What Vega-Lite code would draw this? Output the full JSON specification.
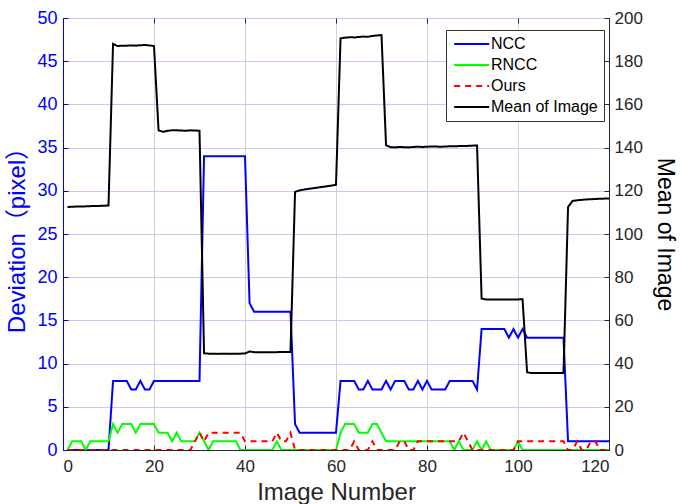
{
  "$schema": "https://vega.github.io/schema/vega-lite/v6.json",
  "width": 546,
  "height": 432,
  "autosize": "none",
  "padding": {"left": 63, "top": 18, "right": 88, "bottom": 54},
  "background": "white",
  "data": {"values": [
    {"i":1,"NCC":0,"RNCC":0,"Ours":0,"Mean":112.5},
    {"i":2,"NCC":0,"RNCC":1,"Ours":0,"Mean":112.6},
    {"i":3,"NCC":0,"RNCC":1,"Ours":0,"Mean":112.7},
    {"i":4,"NCC":0,"RNCC":1,"Ours":0,"Mean":112.7},
    {"i":5,"NCC":0,"RNCC":0,"Ours":0,"Mean":112.8},
    {"i":6,"NCC":0,"RNCC":1,"Ours":0,"Mean":112.9},
    {"i":7,"NCC":0,"RNCC":1,"Ours":0,"Mean":113},
    {"i":8,"NCC":0,"RNCC":1,"Ours":0,"Mean":113},
    {"i":9,"NCC":0,"RNCC":1,"Ours":0,"Mean":113.1},
    {"i":10,"NCC":0,"RNCC":1,"Ours":0,"Mean":113.2},
    {"i":11,"NCC":8,"RNCC":3,"Ours":0,"Mean":188},
    {"i":12,"NCC":8,"RNCC":2,"Ours":0,"Mean":187},
    {"i":13,"NCC":8,"RNCC":3,"Ours":0,"Mean":187.2},
    {"i":14,"NCC":8,"RNCC":3,"Ours":0,"Mean":187.2},
    {"i":15,"NCC":7,"RNCC":3,"Ours":0,"Mean":187.3},
    {"i":16,"NCC":7,"RNCC":2,"Ours":0,"Mean":187.2},
    {"i":17,"NCC":8,"RNCC":3,"Ours":0,"Mean":187.4},
    {"i":18,"NCC":7,"RNCC":3,"Ours":0,"Mean":187.5},
    {"i":19,"NCC":7,"RNCC":3,"Ours":0,"Mean":187.3},
    {"i":20,"NCC":8,"RNCC":3,"Ours":0,"Mean":187},
    {"i":21,"NCC":8,"RNCC":2,"Ours":0,"Mean":148},
    {"i":22,"NCC":8,"RNCC":2,"Ours":0,"Mean":147.3},
    {"i":23,"NCC":8,"RNCC":2,"Ours":0,"Mean":147.8},
    {"i":24,"NCC":8,"RNCC":1,"Ours":0,"Mean":148},
    {"i":25,"NCC":8,"RNCC":2,"Ours":0,"Mean":148},
    {"i":26,"NCC":8,"RNCC":1,"Ours":0,"Mean":147.9},
    {"i":27,"NCC":8,"RNCC":1,"Ours":0,"Mean":147.8},
    {"i":28,"NCC":8,"RNCC":1,"Ours":0,"Mean":148},
    {"i":29,"NCC":8,"RNCC":1,"Ours":1,"Mean":147.9},
    {"i":30,"NCC":8,"RNCC":2,"Ours":2,"Mean":147.8},
    {"i":31,"NCC":34,"RNCC":1,"Ours":1,"Mean":44.8},
    {"i":32,"NCC":34,"RNCC":0,"Ours":2,"Mean":44.6},
    {"i":33,"NCC":34,"RNCC":1,"Ours":2,"Mean":44.6},
    {"i":34,"NCC":34,"RNCC":1,"Ours":2,"Mean":44.5},
    {"i":35,"NCC":34,"RNCC":1,"Ours":2,"Mean":44.6},
    {"i":36,"NCC":34,"RNCC":1,"Ours":2,"Mean":44.6},
    {"i":37,"NCC":34,"RNCC":1,"Ours":2,"Mean":44.5},
    {"i":38,"NCC":34,"RNCC":1,"Ours":2,"Mean":44.6},
    {"i":39,"NCC":34,"RNCC":0,"Ours":2,"Mean":44.6},
    {"i":40,"NCC":34,"RNCC":0,"Ours":1,"Mean":44.7},
    {"i":41,"NCC":17,"RNCC":0,"Ours":1,"Mean":45.6},
    {"i":42,"NCC":16,"RNCC":0,"Ours":1,"Mean":45.3},
    {"i":43,"NCC":16,"RNCC":0,"Ours":1,"Mean":45.3},
    {"i":44,"NCC":16,"RNCC":0,"Ours":1,"Mean":45.2},
    {"i":45,"NCC":16,"RNCC":0,"Ours":1,"Mean":45.3},
    {"i":46,"NCC":16,"RNCC":0,"Ours":1,"Mean":45.3},
    {"i":47,"NCC":16,"RNCC":1,"Ours":2,"Mean":45.3},
    {"i":48,"NCC":16,"RNCC":0,"Ours":1,"Mean":45.4},
    {"i":49,"NCC":16,"RNCC":0,"Ours":1,"Mean":45.4},
    {"i":50,"NCC":16,"RNCC":0,"Ours":2,"Mean":45.4},
    {"i":51,"NCC":3,"RNCC":0,"Ours":0,"Mean":119.5},
    {"i":52,"NCC":2,"RNCC":0,"Ours":0,"Mean":120.2},
    {"i":53,"NCC":2,"RNCC":0,"Ours":0,"Mean":120.6},
    {"i":54,"NCC":2,"RNCC":0,"Ours":0,"Mean":120.9},
    {"i":55,"NCC":2,"RNCC":0,"Ours":0,"Mean":121.2},
    {"i":56,"NCC":2,"RNCC":0,"Ours":0,"Mean":121.5},
    {"i":57,"NCC":2,"RNCC":0,"Ours":0,"Mean":121.8},
    {"i":58,"NCC":2,"RNCC":0,"Ours":0,"Mean":122.1},
    {"i":59,"NCC":2,"RNCC":0,"Ours":0,"Mean":122.4},
    {"i":60,"NCC":2,"RNCC":0,"Ours":0,"Mean":122.8},
    {"i":61,"NCC":8,"RNCC":2,"Ours":0,"Mean":190.6},
    {"i":62,"NCC":8,"RNCC":3,"Ours":0,"Mean":190.9},
    {"i":63,"NCC":8,"RNCC":3,"Ours":0,"Mean":191.1},
    {"i":64,"NCC":8,"RNCC":3,"Ours":1,"Mean":191},
    {"i":65,"NCC":7,"RNCC":2,"Ours":0,"Mean":191.2},
    {"i":66,"NCC":7,"RNCC":2,"Ours":0,"Mean":191.4},
    {"i":67,"NCC":8,"RNCC":2,"Ours":0,"Mean":191.3},
    {"i":68,"NCC":7,"RNCC":3,"Ours":1,"Mean":191.7},
    {"i":69,"NCC":7,"RNCC":3,"Ours":0,"Mean":191.9},
    {"i":70,"NCC":7,"RNCC":2,"Ours":0,"Mean":192.1},
    {"i":71,"NCC":8,"RNCC":1,"Ours":0,"Mean":141.1},
    {"i":72,"NCC":7,"RNCC":1,"Ours":0,"Mean":140.2},
    {"i":73,"NCC":8,"RNCC":1,"Ours":0,"Mean":140.1},
    {"i":74,"NCC":8,"RNCC":1,"Ours":1,"Mean":140.3},
    {"i":75,"NCC":8,"RNCC":1,"Ours":1,"Mean":140.2},
    {"i":76,"NCC":7,"RNCC":1,"Ours":0,"Mean":140.1},
    {"i":77,"NCC":7,"RNCC":1,"Ours":0,"Mean":140.3},
    {"i":78,"NCC":8,"RNCC":1,"Ours":1,"Mean":140.4},
    {"i":79,"NCC":7,"RNCC":1,"Ours":1,"Mean":140.3},
    {"i":80,"NCC":8,"RNCC":1,"Ours":1,"Mean":140.4},
    {"i":81,"NCC":7,"RNCC":1,"Ours":1,"Mean":140.5},
    {"i":82,"NCC":7,"RNCC":1,"Ours":1,"Mean":140.5},
    {"i":83,"NCC":7,"RNCC":1,"Ours":1,"Mean":140.4},
    {"i":84,"NCC":7,"RNCC":1,"Ours":1,"Mean":140.5},
    {"i":85,"NCC":8,"RNCC":1,"Ours":1,"Mean":140.6},
    {"i":86,"NCC":8,"RNCC":0,"Ours":1,"Mean":140.6},
    {"i":87,"NCC":8,"RNCC":1,"Ours":1,"Mean":140.7},
    {"i":88,"NCC":8,"RNCC":0,"Ours":2,"Mean":140.7},
    {"i":89,"NCC":8,"RNCC":0,"Ours":1,"Mean":140.8},
    {"i":90,"NCC":8,"RNCC":0,"Ours":0,"Mean":140.9},
    {"i":91,"NCC":7,"RNCC":1,"Ours":0,"Mean":141},
    {"i":92,"NCC":14,"RNCC":0,"Ours":0,"Mean":70.1},
    {"i":93,"NCC":14,"RNCC":1,"Ours":0,"Mean":69.7},
    {"i":94,"NCC":14,"RNCC":0,"Ours":0,"Mean":69.7},
    {"i":95,"NCC":14,"RNCC":0,"Ours":0,"Mean":69.7},
    {"i":96,"NCC":14,"RNCC":0,"Ours":0,"Mean":69.7},
    {"i":97,"NCC":14,"RNCC":0,"Ours":0,"Mean":69.7},
    {"i":98,"NCC":13,"RNCC":0,"Ours":0,"Mean":69.7},
    {"i":99,"NCC":14,"RNCC":0,"Ours":0,"Mean":69.7},
    {"i":100,"NCC":13,"RNCC":1,"Ours":1,"Mean":69.7},
    {"i":101,"NCC":14,"RNCC":0,"Ours":1,"Mean":69.8},
    {"i":102,"NCC":13,"RNCC":0,"Ours":1,"Mean":36},
    {"i":103,"NCC":13,"RNCC":0,"Ours":1,"Mean":35.6},
    {"i":104,"NCC":13,"RNCC":0,"Ours":1,"Mean":35.6},
    {"i":105,"NCC":13,"RNCC":0,"Ours":1,"Mean":35.6},
    {"i":106,"NCC":13,"RNCC":0,"Ours":1,"Mean":35.6},
    {"i":107,"NCC":13,"RNCC":0,"Ours":1,"Mean":35.6},
    {"i":108,"NCC":13,"RNCC":0,"Ours":1,"Mean":35.6},
    {"i":109,"NCC":13,"RNCC":0,"Ours":1,"Mean":35.6},
    {"i":110,"NCC":13,"RNCC":0,"Ours":1,"Mean":35.6},
    {"i":111,"NCC":1,"RNCC":0,"Ours":0,"Mean":112.5},
    {"i":112,"NCC":1,"RNCC":0,"Ours":0,"Mean":115.3},
    {"i":113,"NCC":1,"RNCC":0,"Ours":1,"Mean":115.6},
    {"i":114,"NCC":1,"RNCC":0,"Ours":0,"Mean":115.8},
    {"i":115,"NCC":1,"RNCC":0,"Ours":0,"Mean":116},
    {"i":116,"NCC":1,"RNCC":0,"Ours":1,"Mean":116.1},
    {"i":117,"NCC":1,"RNCC":0,"Ours":1,"Mean":116.2},
    {"i":118,"NCC":1,"RNCC":0,"Ours":0,"Mean":116.3},
    {"i":119,"NCC":1,"RNCC":0,"Ours":0,"Mean":116.4},
    {"i":120,"NCC":1,"RNCC":0,"Ours":0,"Mean":116.4}
  ]},
  "layer": [
    {
      "transform": [{"fold": ["NCC", "RNCC", "Ours"], "as": ["series", "v"]}],
      "mark": {"type": "line", "strokeWidth": 2, "clip": true},
      "encoding": {
        "x": {"field": "i", "type": "quantitative",
          "scale": {"domain": [0, 120], "nice": false},
          "axis": {"title": "Image Number", "values": [0,20,40,60,80,100,120],
            "grid": true, "gridColor": "#d4d4d4", "gridWidth": 1,
            "domainColor": "#262626", "tickColor": "#262626", "tickSize": -5,
            "labelFontSize": 17, "labelColor": "#262626", "labelPadding": 13,
            "titleFontSize": 24, "titleFontWeight": "normal", "titleColor": "#262626", "titlePadding": 6}},
        "y": {"field": "v", "type": "quantitative",
          "scale": {"domain": [0, 50], "nice": false},
          "axis": {"title": "Deviation（pixel）", "values": [0,5,10,15,20,25,30,35,40,45,50],
            "grid": true, "gridColor": "#c8c8f5", "gridWidth": 1,
            "domainColor": "#0000ff", "tickColor": "#0000ff", "tickSize": -5,
            "labelFontSize": 18, "labelColor": "#0000ff", "labelPadding": 11,
            "titleFontSize": 24, "titleFontWeight": "normal", "titleColor": "#0000ff", "titlePadding": 7}},
        "color": {"field": "series", "type": "nominal",
          "scale": {"domain": ["NCC", "RNCC", "Ours", "Mean"], "range": ["#0000ff", "#00ff00", "#ff0000", "#000000"]},
          "legend": {"title": null, "labelExpr": "datum.label == 'Mean' ? 'Mean of Image' : datum.label"}},
        "strokeDash": {"field": "series", "type": "nominal",
          "scale": {"domain": ["NCC", "RNCC", "Ours", "Mean"], "range": [[1,0],[1,0],[6,5],[1,0]]},
          "legend": {"title": null, "labelExpr": "datum.label == 'Mean' ? 'Mean of Image' : datum.label"}}
      }
    },
    {
      "transform": [{"fold": ["Mean"], "as": ["series", "m"]}],
      "mark": {"type": "line", "strokeWidth": 2, "clip": true},
      "encoding": {
        "x": {"field": "i", "type": "quantitative",
          "axis": {"orient": "top", "title": null, "labels": false, "grid": false, "domain": false,
            "values": [0,20,40,60,80,100,120], "tickColor": "#262626", "tickSize": -5}},
        "y": {"field": "m", "type": "quantitative",
          "scale": {"domain": [0, 200], "nice": false},
          "axis": {"title": "Mean of Image", "orient": "right", "values": [0,20,40,60,80,100,120,140,160,180,200],
            "grid": false, "domainColor": "#262626", "tickColor": "#262626", "tickSize": -5,
            "labelFontSize": 17, "labelColor": "#262626", "labelPadding": 10,
            "titleFontSize": 23, "titleFontWeight": "normal", "titleColor": "#000000", "titlePadding": 10}},
        "color": {"field": "series", "type": "nominal", "legend": {"title": null, "labelExpr": "datum.label == 'Mean' ? 'Mean of Image' : datum.label"}},
        "strokeDash": {"field": "series", "type": "nominal", "legend": {"title": null, "labelExpr": "datum.label == 'Mean' ? 'Mean of Image' : datum.label"}}
      }
    }
  ],
  "resolve": {"scale": {"y": "independent"}, "axis": {"x": "independent"}},
  "config": {
    "font": "Liberation Sans, Noto Sans CJK SC",
    "view": {"stroke": "#262626", "strokeWidth": 1},
    "legend": {
      "orient": "none", "legendX": 383, "legendY": 12,
      "symbolType": "M-1,0H5", "symbolSize": 136, "symbolStrokeWidth": 2,
      "labelFontSize": 16, "labelColor": "#000000", "labelOffset": 23,
      "rowPadding": 5, "padding": 6,
      "fillColor": "#ffffff", "strokeColor": "#333333"
    }
  }
}
